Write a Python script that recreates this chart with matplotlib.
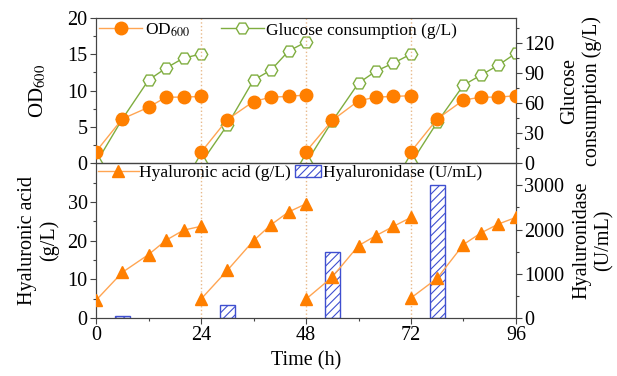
import matplotlib
matplotlib.use("Agg")
import matplotlib.pyplot as plt
import numpy as np
from matplotlib.ticker import MultipleLocator
from matplotlib.patches import Patch
from matplotlib.lines import Line2D

plt.rcParams["font.family"] = ["Liberation Serif", "DejaVu Serif"]
plt.rcParams["mathtext.fontset"] = "stix"
plt.rcParams["hatch.linewidth"] = 0.8

# sampling times within each 24 h cycle
cycle_times = [[0, 6, 12, 16, 20, 24],
               [24, 30, 36, 40, 44, 48],
               [48, 54, 60, 64, 68, 72],
               [72, 78, 84, 88, 92, 96]]

od600 = [[1.6, 6.1, 7.7, 9.1, 9.1, 9.2],
         [1.5, 6.0, 8.5, 9.1, 9.2, 9.4],
         [1.6, 5.9, 8.6, 9.1, 9.2, 9.3],
         [1.6, 6.1, 8.7, 9.1, 9.1, 9.3]]

glucose = [[0, 44, 83, 95, 105, 109],
           [0, 38, 83, 93, 112, 121],
           [0, 42, 80, 92, 100, 109],
           [0, 41, 78, 88, 98, 110]]

ha = [[4.6, 11.8, 16.4, 20.1, 22.7, 23.7],
      [4.9, 12.3, 20.0, 24.1, 27.4, 29.5],
      [4.9, 10.6, 18.7, 21.3, 23.7, 26.0],
      [5.2, 10.3, 19.0, 22.0, 24.3, 26.0]]

hyase_t = [6, 30, 54, 78]
hyase = [50, 300, 1500, 3000]

orange = "#ff7f00"
orange_line = "#ffa552"
green = "#7fad3f"
blue = "#3f4fd0"
spine_c = "#444444"

fig = plt.figure(figsize=(6.17, 3.76), dpi=100)
ax1 = fig.add_axes([0.1556, 0.566, 0.6807, 0.386])
ax2 = fig.add_axes([0.1556, 0.154, 0.6807, 0.412])
ax1r = ax1.twinx()
ax2r = ax2.twinx()

for t, od, g in zip(cycle_times, od600, glucose):
    ax1.plot(t, od, color=orange_line, lw=1, marker="o", ms=9,
             mfc=orange, mec=orange, zorder=4)
    ax1r.plot(t, g, color=green, lw=1, marker="H", ms=9,
              mfc="white", mec=green, mew=1, zorder=3)

for t, h in zip(cycle_times, ha):
    ax2.plot(t, h, color=orange_line, lw=1, marker="^", ms=9,
             mfc=orange, mec=orange, zorder=4)

ax2r.bar(hyase_t, hyase, width=3.4, facecolor="white", edgecolor=blue,
         hatch="////", lw=1, zorder=2)
ax2.set_zorder(ax2r.get_zorder() + 1)
ax2.patch.set_visible(False)
ax1.set_zorder(ax1r.get_zorder() + 1)
ax1.patch.set_visible(False)

for ax in (ax1, ax2):
    for x in (24, 48, 72):
        ax.axvline(x, color="#e8b98a", lw=1, ls=":", zorder=1)

for ax in (ax1, ax2):
    ax.set_xlim(0, 96)
    ax.set_xticks([0, 24, 48, 72, 96])
    ax.xaxis.set_minor_locator(MultipleLocator(12))

ax1.set_ylim(0, 20)
ax1.set_yticks([0, 5, 10, 15, 20])
ax1.yaxis.set_minor_locator(MultipleLocator(2.5))
ax1r.set_ylim(0, 145)
ax1r.set_yticks([0, 30, 60, 90, 120])
ax1r.yaxis.set_minor_locator(MultipleLocator(15))
ax2.set_ylim(0, 40)
ax2.set_yticks([0, 10, 20, 30])
ax2.yaxis.set_minor_locator(MultipleLocator(5))
ax2r.set_ylim(0, 3500)
ax2r.set_yticks([0, 1000, 2000, 3000])
ax2r.yaxis.set_minor_locator(MultipleLocator(500))

ax1.tick_params(axis="x", which="both", bottom=False, labelbottom=False)
ax1r.tick_params(axis="x", which="both", bottom=False, labelbottom=False)

for ax in (ax1, ax2, ax1r, ax2r):
    ax.tick_params(which="major", direction="out", length=4, width=0.8,
                   color=spine_c, labelsize=14.5, pad=2)
    ax.tick_params(which="minor", direction="out", length=2.5, width=0.8,
                   color=spine_c)
    for s in ax.spines.values():
        s.set_color(spine_c)
        s.set_linewidth(0.8)

ax2.set_xlabel("Time (h)", fontsize=14.5, labelpad=4)
ax1.set_ylabel("OD$_{600}$", fontsize=15, labelpad=14)
ax1r.set_ylabel("Glucose\nconsumption (g/L)", fontsize=14.5, labelpad=4)
ax2.set_ylabel("Hyaluronic acid\n(g/L)", fontsize=14.5, labelpad=6)
ax2r.set_ylabel("Hyaluronidase\n(U/mL)", fontsize=14.5, labelpad=6)

h1 = [Line2D([], [], color=orange_line, lw=1, marker="o", ms=9, mfc=orange, mec=orange),
      Line2D([], [], color=green, lw=1, marker="H", ms=9, mfc="white", mec=green)]
ax1.legend(h1, ["OD$_{600}$", "Glucose consumption (g/L)"], ncol=2, loc="upper left",
           frameon=False, fontsize=12.5, borderaxespad=0, handlelength=2.45,
           handletextpad=0.15, columnspacing=1.8, borderpad=0.2)

leg_a = ax2.legend([Line2D([], [], color=orange_line, lw=1, marker="^", ms=9,
                           mfc=orange, mec=orange)],
                   ["Hyaluronic acid (g/L)"], loc="upper left", frameon=False,
                   fontsize=12.5, borderaxespad=0, handlelength=2.35,
                   handletextpad=0.05, borderpad=0.1)
ax2.add_artist(leg_a)
ax2.legend([Patch(facecolor="white", edgecolor=blue, hatch="////", lw=1)],
           ["Hyaluronidase (U/mL)"], loc="upper left",
           bbox_to_anchor=(0.47, 1.0), frameon=False, fontsize=12.5,
           borderaxespad=0, handlelength=1.5, handletextpad=0.1, borderpad=0.1)

fig.savefig("out.png", dpi=100)
